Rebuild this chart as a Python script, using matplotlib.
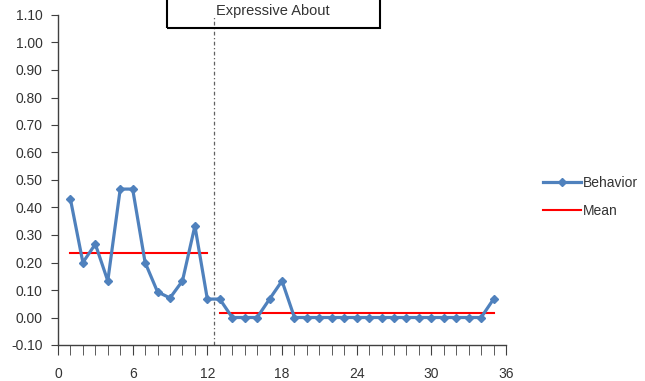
import matplotlib
matplotlib.use("Agg")
import matplotlib.pyplot as plt
from matplotlib.patches import Rectangle
from matplotlib.ticker import MultipleLocator, FormatStrFormatter

plt.rcParams['font.family'] = ['Liberation Sans', 'DejaVu Sans']

# session numbers and behavior proportions
sessions = list(range(1, 36))
behavior = [0.43, 0.20, 0.267, 0.133, 0.467, 0.467, 0.20, 0.093, 0.071, 0.133,
            0.333, 0.067, 0.067, 0.0, 0.0, 0.0, 0.067, 0.133, 0.0, 0.0,
            0.0, 0.0, 0.0, 0.0, 0.0, 0.0, 0.0, 0.0, 0.0, 0.0,
            0.0, 0.0, 0.0, 0.0, 0.067]

# phase means
mean1_x = [1, 12]
mean1_y = [0.236, 0.236]
mean2_x = [13, 35]
mean2_y = [0.015, 0.015]

phase_change = 12.5
phase_label = 'Expressive About'

fig = plt.figure(figsize=(6.45, 3.81), dpi=100)
ax = fig.add_axes([58 / 645, 1 - 345 / 381, (506 - 58) / 645, (345 - 15) / 381])

blue = '#4F81BD'
ax.plot(sessions, behavior, color=blue, lw=2.3, marker='D', ms=4.5,
        label='Behavior', zorder=3)
ax.plot(mean1_x, mean1_y, color='#FF0000', lw=1.5, label='Mean', zorder=2)
ax.plot(mean2_x, mean2_y, color='#FF0000', lw=1.5, zorder=2)
ax.axvline(phase_change, color='#606060', lw=0.9, ls=(0, (3, 2, 1, 2)), zorder=1)

ax.set_xlim(0, 36)
ax.set_ylim(-0.10, 1.10)
ax.xaxis.set_major_locator(MultipleLocator(6))
ax.xaxis.set_minor_locator(MultipleLocator(1))
ax.yaxis.set_major_locator(MultipleLocator(0.1))
ax.yaxis.set_major_formatter(FormatStrFormatter('%.2f'))

for s in ['top', 'right']:
    ax.spines[s].set_visible(False)
for s in ['left', 'bottom']:
    ax.spines[s].set_color('#404040')
    ax.spines[s].set_linewidth(1.0)

ax.tick_params(axis='both', which='both', direction='out', color='#404040',
               labelsize=10, labelcolor='#333333')
ax.tick_params(axis='y', which='major', length=5, pad=6)
ax.tick_params(axis='x', which='major', length=7, pad=9)
ax.tick_params(axis='x', which='minor', length=7)

# phase label box
fig.patches.append(Rectangle((167 / 645, 1 - 28 / 381), (380 - 167) / 645, 40 / 381,
                             transform=fig.transFigure, fill=False,
                             edgecolor='black', lw=1.5))
fig.text(273 / 645, 1 - 11 / 381, phase_label, ha='center', va='center',
         fontsize=10.5, color='#333333')

leg = ax.legend(loc='center left', bbox_to_anchor=(543 / 645, 1 - 197 / 381),
                bbox_transform=fig.transFigure, frameon=False, borderpad=0,
                borderaxespad=0, fontsize=10, handlelength=2.7,
                labelspacing=1.0, handletextpad=0.2)
for t in leg.get_texts():
    t.set_color('#333333')

fig.savefig('out.png', dpi=100)
